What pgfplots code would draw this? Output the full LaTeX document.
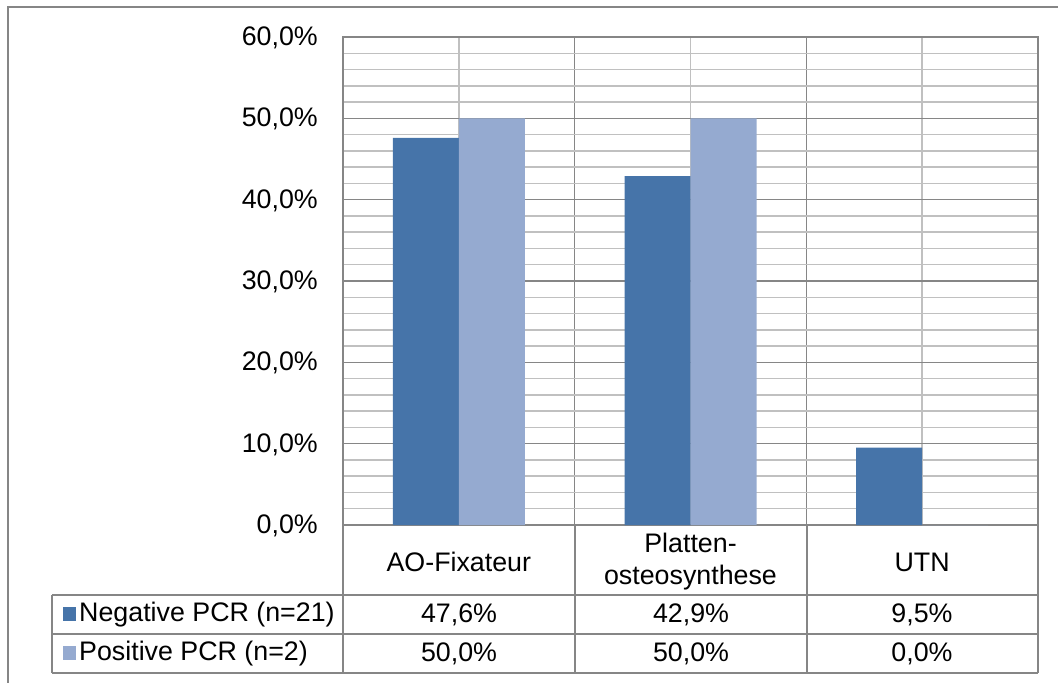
\documentclass[border=0pt]{standalone}
\usepackage{pgfplots}
\pgfplotsset{compat=1.18}
\usepackage{fontspec}
\setmainfont{Liberation Sans}
\definecolor{negc}{HTML}{4674A9}
\definecolor{posc}{HTML}{95AAD0}
\definecolor{framec}{HTML}{868686}
\definecolor{minorc}{HTML}{C0C0C0}
\begin{document}
\begin{tikzpicture}[x=1pt,y=1pt,font=\fontsize{26.8}{32}\selectfont]
\path[use as bounding box] (0,0) rectangle (1058,683);
\draw[framec, line width=2pt] (8,-20) -- (8,676) -- (1080,676);
\begin{axis}[
 at={(343pt,158pt)}, anchor=south west, scale only axis, width=695pt, height=488pt,
 xmin=-0.5, xmax=2.5, ymin=0, ymax=60,
 ybar=0pt, bar width=66pt,
 xtick={-0.5,0.5,1.5,2.5}, xticklabels={},
 minor x tick num=1,
 ytick={0,10,...,60}, minor y tick num=4,
 grid=both,
 major grid style={framec, line width=1.6pt},
 minor grid style={minorc, line width=1.5pt},
 axis line style={framec, line width=1.6pt},
 major tick length=0pt, minor tick length=0pt,
 /pgf/number format/assume math mode=true,
 tick label style={font=\fontsize{26.8}{32}\selectfont},
 yticklabel={\pgfmathprintnumber[fixed,fixed zerofill,precision=1,use comma]{\tick}\%},
 yticklabel style={anchor=east, inner sep=0pt, xshift=-25pt, yshift=-1pt},
 clip=false,
 extra x ticks={0,1,2},
 extra x tick labels={AO-Fixateur,{Platten-\\osteosynthese},UTN},
 extra x tick style={grid=none, xticklabel style={align=center, anchor=center, yshift=-37pt}},
]
\addplot[fill=negc, draw=none] coordinates {(0,47.6) (1,42.9) (2,9.5)};
\addplot[fill=posc, draw=none] coordinates {(0,50.0) (1,50.0) (2,0.0)};
\end{axis}
\begin{scope}[framec, line width=1.6pt]
\draw (52,88) -- (1038,88);
\draw (52,49) -- (1038,49);
\draw (52,10) -- (1038,10);
\draw (52,88) -- (52,10);
\foreach \xx in {343,575,807,1038} \draw (\xx,158) -- (\xx,10);
\end{scope}
\fill[negc] (63,62) rectangle (76,76);
\fill[posc] (63,23) rectangle (76,37);
\node[anchor=west, inner sep=0pt] at (79,68.5) {Negative PCR (n=21)};
\node[anchor=west, inner sep=0pt] at (79,29.5) {Positive PCR (n=2)};
\node at (459,68.5) {47,6\%};
\node at (691,68.5) {42,9\%};
\node at (922,68.5) {9,5\%};
\node at (459,29.5) {50,0\%};
\node at (691,29.5) {50,0\%};
\node at (922,29.5) {0,0\%};
\end{tikzpicture}
\end{document}
